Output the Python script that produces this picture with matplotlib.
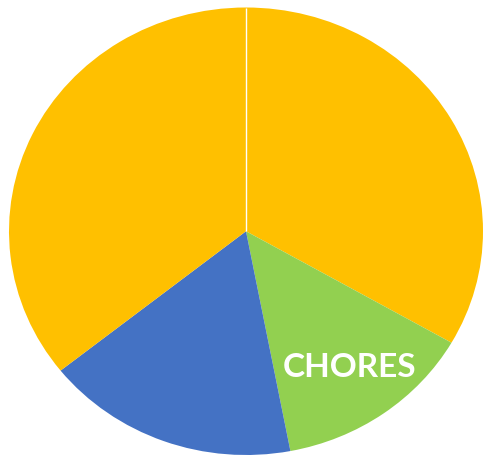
import matplotlib
matplotlib.use("Agg")
import matplotlib.pyplot as plt

categories = ["", "CHORES", "", ""]
values = [33.3, 13.7, 17.3, 35.7]
colors = ["#FFC000", "#92D050", "#4472C4", "#FFC000"]

fig = plt.figure(figsize=(4.83, 4.57), dpi=100)
ax = fig.add_axes([9 / 483, 2 / 457, 474 / 483, 447.5 / 457])
wedges, texts = ax.pie(values, labels=categories, colors=colors, startangle=90,
                       counterclock=False, labeldistance=0.75,
                       wedgeprops=dict(linewidth=0),
                       textprops=dict(color="white", fontsize=24, fontweight="bold",
                                      family=["Lato", "DejaVu Sans"]))
for t in texts:
    t.set_ha("center")
    t.set_va("center")
# thin white separator between the two yellow slices
ax.plot([0, 0], [0, 1], color="white", lw=1.0, solid_capstyle="butt")
ax.set_aspect("auto")
ax.set_xlim(-1, 1)
ax.set_ylim(-1, 1)
ax.axis("off")
fig.savefig("out.png", dpi=100)
